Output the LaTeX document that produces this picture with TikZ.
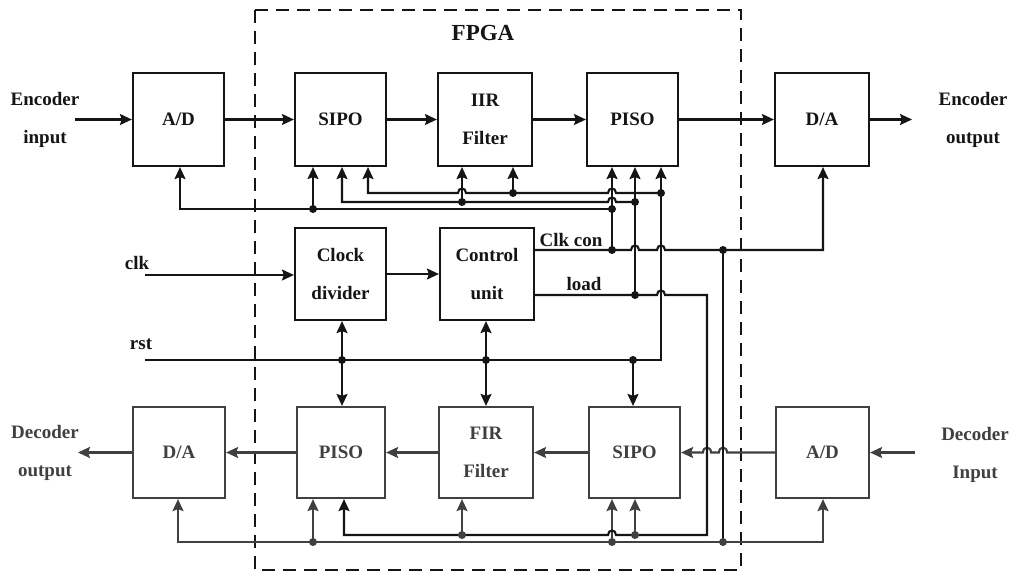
\documentclass[tikz,border=0pt]{standalone}
\usepackage{fontspec}
\setmainfont{Liberation Serif}
\usetikzlibrary{arrows.meta}
\newcommand{\lblfont}{\fontsize{19}{38}\selectfont\bfseries}
\definecolor{fg}{HTML}{151515}
\definecolor{fgb}{HTML}{404040}
\begin{document}
\begin{tikzpicture}[x=1pt,y=-1pt,
  box/.style={draw=fg, text=fg, line width=2.2pt, minimum width=91pt, minimum height=93pt, inner sep=0pt, align=center, font=\lblfont},
  boxb/.style={box, draw=fgb, text=fgb, minimum height=91pt},
  lbl/.style={text=fg, align=center, font=\lblfont, inner sep=0pt},
  lblb/.style={lbl, text=fgb},
  wire/.style={line width=2.1pt, draw=fg},
  sig/.style={wire, -{Stealth[length=12pt,width=11pt,inset=2pt]}},
  sigb/.style={sig, draw=fgb},
  dot/.style={circle, fill=fg, inner sep=0pt, minimum size=8pt},
  dotb/.style={dot, fill=fgb},
  fpga/.style={draw=fg, line width=2.2pt, dash pattern=on 13pt off 8pt}
]
\useasboundingbox (0,0) rectangle (1022,581);
\fill[white] (0,0) rectangle (1022,581);

% FPGA region
\draw[fpga] (255,10) rectangle (741,570);
\node[lbl, font=\fontsize{23}{26}\selectfont\bfseries] (fpgal) at (483,33) {FPGA};

% boxes
\node[box] (AD1) at (178.5,119.5) {A/D};
\node[box] (SIPO1) at (340.5,119.5) {SIPO};
\node[box, minimum width=94pt] (IIR) at (485,119.5) {IIR\\Filter};
\node[box] (PISO1) at (632.5,119.5) {PISO};
\node[box, minimum width=94pt] (DA1) at (822,119.5) {D/A};
\node[box, minimum height=92pt] (CLK) at (340.5,274) {Clock\\divider};
\node[box, minimum height=92pt, minimum width=94pt] (CTRL) at (487,274) {Control\\unit};
\node[boxb, minimum width=92pt] (DA2) at (179,452.5) {D/A};
\node[boxb, minimum width=88pt] (PISO2) at (341,452.5) {PISO};
\node[boxb, minimum width=94pt] (FIR) at (486,452.5) {FIR\\Filter};
\node[boxb] (SIPO2) at (634.5,452.5) {SIPO};
\node[boxb, minimum width=93pt] (AD2) at (822.5,452.5) {A/D};

% labels
\node[lbl] (encin) at (45,120) {Encoder\\input};
\node[lbl] (encout) at (973,120) {Encoder\\output};
\node[lblb] (decout) at (45,453) {Decoder\\output};
\node[lblb] (decin) at (975,455) {Decoder\\Input};
\node[lbl] (clkl) at (137,263) {clk};
\node[lbl] (rstl) at (141,344) {rst};
\node[lbl] (clkcon) at (571,240) {Clk con};
\node[lbl] (loadl) at (584,284) {load};

% free ends
\coordinate (encinS) at (75,119.5);
\coordinate (encoutE) at (912,119.5);
\coordinate (clkS) at (145,275);
\coordinate (rstS) at (145,360);
\coordinate (decinS) at (915,452.5);
\coordinate (decoutE) at (78,452.5);

% main data path (encoder)
\draw[sig] (encinS) -- (AD1.west);
\draw[sig] (AD1) -- (SIPO1);
\draw[sig] (SIPO1) -- (IIR);
\draw[sig] (IIR) -- (PISO1);
\draw[sig] (PISO1) -- (DA1);
\draw[sig] (DA1.east) -- (encoutE);

% clock path
\draw[sig] (clkS) -- (clkS -| CLK.west);
\draw[sig] (CLK) -- (CTRL);

% main data path (decoder)
\draw[sigb] (decinS) -- (AD2.east);
\draw[sigb] (AD2.west) -- (727,452.5) .. controls (727,446) and (719,446) .. (719,452.5)
  -- (711,452.5) .. controls (711,446) and (703,446) .. (703,452.5) -- (SIPO2.east);
\draw[sigb] (SIPO2) -- (FIR);
\draw[sigb] (FIR) -- (PISO2);
\draw[sigb] (PISO2) -- (DA2);
\draw[sigb] (DA2.west) -- (decoutE);

% Clk_con line
\draw[sig] (CTRL.east |- 0,250) -- (631,250) .. controls (631,244) and (639,244) .. (639,250)
  -- (657,250) .. controls (657,244) and (665,244) .. (665,250) -- (823,250) -- (823,250 |- DA1.south);
\draw[sig] (612,250) -- (612,250 |- PISO1.south);
\draw[sig] (612,209) -- (180,209) -- (180,209 |- AD1.south);
\draw[sig] (313,209) -- (313,209 |- SIPO1.south);
\draw[wire] (723,250) -- (723,542);
\draw[sigb] (723,542) -- (823,542) -- (823,542 |- AD2.south);
\draw[sigb] (723,542) -- (178,542) -- (178,542 |- DA2.south);
\draw[sigb] (313,542) -- (313,542 |- PISO2.south);
\draw[sigb] (612,542) -- (612,542 |- SIPO2.south);

% load line
\draw[sig] (CTRL.east |- 0,295) -- (657,295) .. controls (657,289) and (665,289) .. (665,295)
  -- (707,295) -- (707,535) -- (616,535) .. controls (616,529) and (608,529) .. (608,535)
  -- (344,535) -- (344,535 |- PISO2.south);
\draw[sig] (635,295) -- (635,295 |- PISO1.south);
\draw[sig] (635,202) -- (616,202) .. controls (616,196) and (608,196) .. (608,202)
  -- (342,202) -- (342,202 |- SIPO1.south);
\draw[sig] (462,202) -- (462,202 |- IIR.south);
\draw[sigb] (635,535) -- (635,535 |- SIPO2.south);
\draw[sigb] (462,535) -- (462,535 |- FIR.south);

% rst line
\draw[sig] (rstS) -- (661,360) -- (661,360 |- PISO1.south);
\draw[sig] (661,193) -- (616,193) .. controls (616,187) and (608,187) .. (608,193)
  -- (466,193) .. controls (466,187) and (458,187) .. (458,193) -- (368,193) -- (368,193 |- SIPO1.south);
\draw[sig] (513,193) -- (513,193 |- IIR.south);
\draw[sig] (342,360) -- (342,360 |- CLK.south);
\draw[sig] (342,360) -- (342,360 |- PISO2.north);
\draw[sig] (486,360) -- (486,360 |- CTRL.south);
\draw[sig] (486,360) -- (486,360 |- FIR.north);
\draw[sig] (633,360) -- (633,360 |- SIPO2.north);

% junction dots
\foreach \p in {{612,250},{723,250},{612,209},{313,209},{635,295},{635,202},{462,202},{661,193},{513,193},{342,360},{486,360},{633,360}}
  \node[dot] at (\p) {};
\foreach \p in {{723,542},{313,542},{612,542},{635,535},{462,535}}
  \node[dotb] at (\p) {};
\end{tikzpicture}
\end{document}
